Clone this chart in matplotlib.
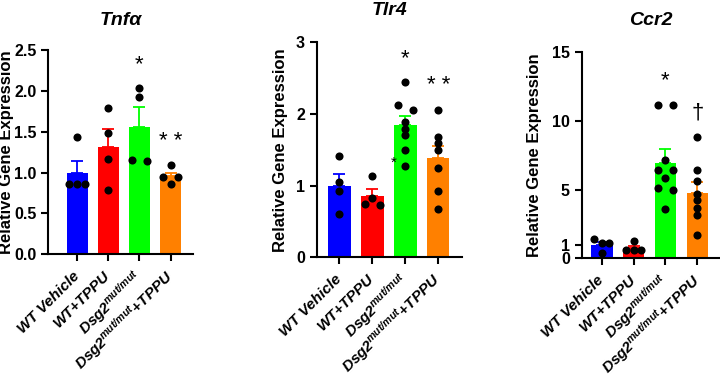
import numpy as np
import matplotlib
matplotlib.use("Agg")
import matplotlib.pyplot as plt

plt.rcParams['font.family'] = ['Liberation Sans', 'DejaVu Sans']
plt.rcParams['mathtext.fontset'] = 'custom'
plt.rcParams['mathtext.rm'] = 'Liberation Sans:italic:bold'
plt.rcParams['mathtext.it'] = 'Liberation Sans:italic:bold'
plt.rcParams['mathtext.bf'] = 'Liberation Sans:italic:bold'

# groups / tick labels
groups = ['WT Vehicle', 'WT+TPPU', r'Dsg2$^{mut/mut}$', r'Dsg2$^{mut/mut}$+TPPU']
bar_colors = ['#0000ff', '#ff0000', '#00ff00', '#ff8000']

# Tnfa
tnfa_points = [[1.43, 0.86, 0.86, 0.86],
               [1.79, 1.49, 1.17, 0.79],
               [2.03, 1.93, 1.15, 1.14],
               [1.09, 0.94, 0.94, 0.86]]
tnfa_mean = [1.00, 1.31, 1.56, 0.96]
tnfa_sem = [0.14, 0.22, 0.24, 0.04]
tnfa_marks = [(2, '*'), (3, '* *')]

# Tlr4
tlr4_points = [[1.42, 1.05, 0.92, 0.61],
               [1.14, 0.83, 0.74, 0.73],
               [2.44, 2.12, 2.05, 1.89, 1.79, 1.70, 1.50, 1.28],
               [2.06, 1.68, 1.59, 1.50, 1.25, 0.92, 0.68]]
tlr4_mean = [1.00, 0.86, 1.85, 1.38]
tlr4_sem = [0.16, 0.10, 0.12, 0.17]
tlr4_marks = [(2, '*'), (3, '* *')]

# Ccr2
ccr2_points = [[1.44, 1.08, 1.08, 0.36],
               [1.25, 0.60, 0.60, 0.60],
               [11.18, 11.18, 7.16, 6.44, 6.44, 5.84, 5.12, 4.95, 3.60],
               [8.82, 6.39, 5.60, 4.71, 4.23, 3.68, 3.12, 1.70]]
ccr2_mean = [0.99, 0.74, 6.92, 4.76]
ccr2_sem = [0.21, 0.15, 1.01, 0.76]
ccr2_marks = [(2, '*'), (3, '\u2020')]


def swarm_offsets(ax, vals, d_px=7.7, gap_px=6.0):
    # spread points that sit too close vertically into columns
    o = ax.transData.transform((0, 0))
    px_x = ax.transData.transform((1, 0))[0] - o[0]
    px_y = ax.transData.transform((0, 1))[1] - o[1]
    order = np.argsort(-np.asarray(vals), kind='stable')
    clusters = []
    for i in order:
        if clusters and (vals[clusters[-1][-1]] - vals[i]) * px_y < gap_px:
            clusters[-1].append(i)
        else:
            clusters.append([i])
    pattern = [-1, 1, 0, -2, 2]
    offs = np.zeros(len(vals))
    for cl in clusters:
        if len(cl) > 1:
            for k, i in enumerate(cl):
                offs[i] = pattern[k] * d_px / px_x
    return offs, px_y


def panel(rect, xlim, ylim, yticks, yticklabels, title, title_pad,
          points, means, sems, marks, labelpad):
    ax = fig.add_axes(rect)
    ax.set_xlim(*xlim)
    ax.set_ylim(*ylim)
    x = np.arange(len(groups))
    for i in range(len(groups)):
        ax.errorbar(x[i], means[i], yerr=[[0], [sems[i]]], fmt='none',
                    ecolor=bar_colors[i], elinewidth=1.3, capsize=4,
                    capthick=1.3, zorder=1)
    ax.bar(x, means, width=0.68, color=bar_colors, zorder=2)
    for i, vals in enumerate(points):
        offs, px_y = swarm_offsets(ax, vals)
        ax.scatter(i + offs, vals, s=34, color='black', zorder=3, linewidths=0)
    for i, txt in marks:
        y = max(points[i]) + 24 / px_y
        ax.text(i, y, txt, ha='center', va='center', fontsize=16)
    for s in ['top', 'right']:
        ax.spines[s].set_visible(False)
    for s in ['left', 'bottom']:
        ax.spines[s].set_linewidth(1.5)
    ax.set_yticks(yticks)
    ax.set_yticklabels(yticklabels, fontweight='bold', fontsize=11.5)
    ax.set_xticks(x)
    ax.set_xticklabels(groups, rotation=45, ha='right', va='center',
                       rotation_mode='anchor', fontsize=11,
                       fontweight='bold', fontstyle='italic')
    ax.tick_params(axis='both', width=1.5, length=5)
    ax.tick_params(axis='x', pad=9)
    ax.set_ylabel('Relative Gene Expression', fontweight='bold', fontsize=12,
                  labelpad=labelpad)
    ax.set_title(title, fontweight='bold', fontstyle='italic', fontsize=14,
                 pad=title_pad)
    return ax


fig = plt.figure(figsize=(7.2, 3.85), dpi=100)

panel([0.067, 0.3395, 0.2006, 0.5306], (-0.93, 3.71), (0, 2.5),
      [0, 0.5, 1.0, 1.5, 2.0, 2.5], ['0.0', '0.5', '1.0', '1.5', '2.0', '2.5'],
      'Tnf\u03b1', 18, tnfa_points, tnfa_mean, tnfa_sem, tnfa_marks, 0)

ax2 = panel([0.4399, 0.3317, 0.2018, 0.5584], (-0.685, 3.72), (0, 3),
            [0, 1, 2, 3], ['0', '1', '2', '3'],
            'Tlr4', 19.5, tlr4_points, tlr4_mean, tlr4_sem, tlr4_marks, 5.5)
# small extra marker left of the third Tlr4 bar
ax2.text(2 - 0.35, min(tlr4_points[2]) + 0.04, '*', ha='center', va='center',
         fontsize=11)

panel([0.808, 0.329, 0.192, 0.536], (-0.627, 3.71), (0, 15),
      [0, 1, 5, 10, 15], ['0', '1', '5', '10', '15'],
      'Ccr2', 19.5, ccr2_points, ccr2_mean, ccr2_sem, ccr2_marks, 7)

fig.savefig('out.png', dpi=100)
